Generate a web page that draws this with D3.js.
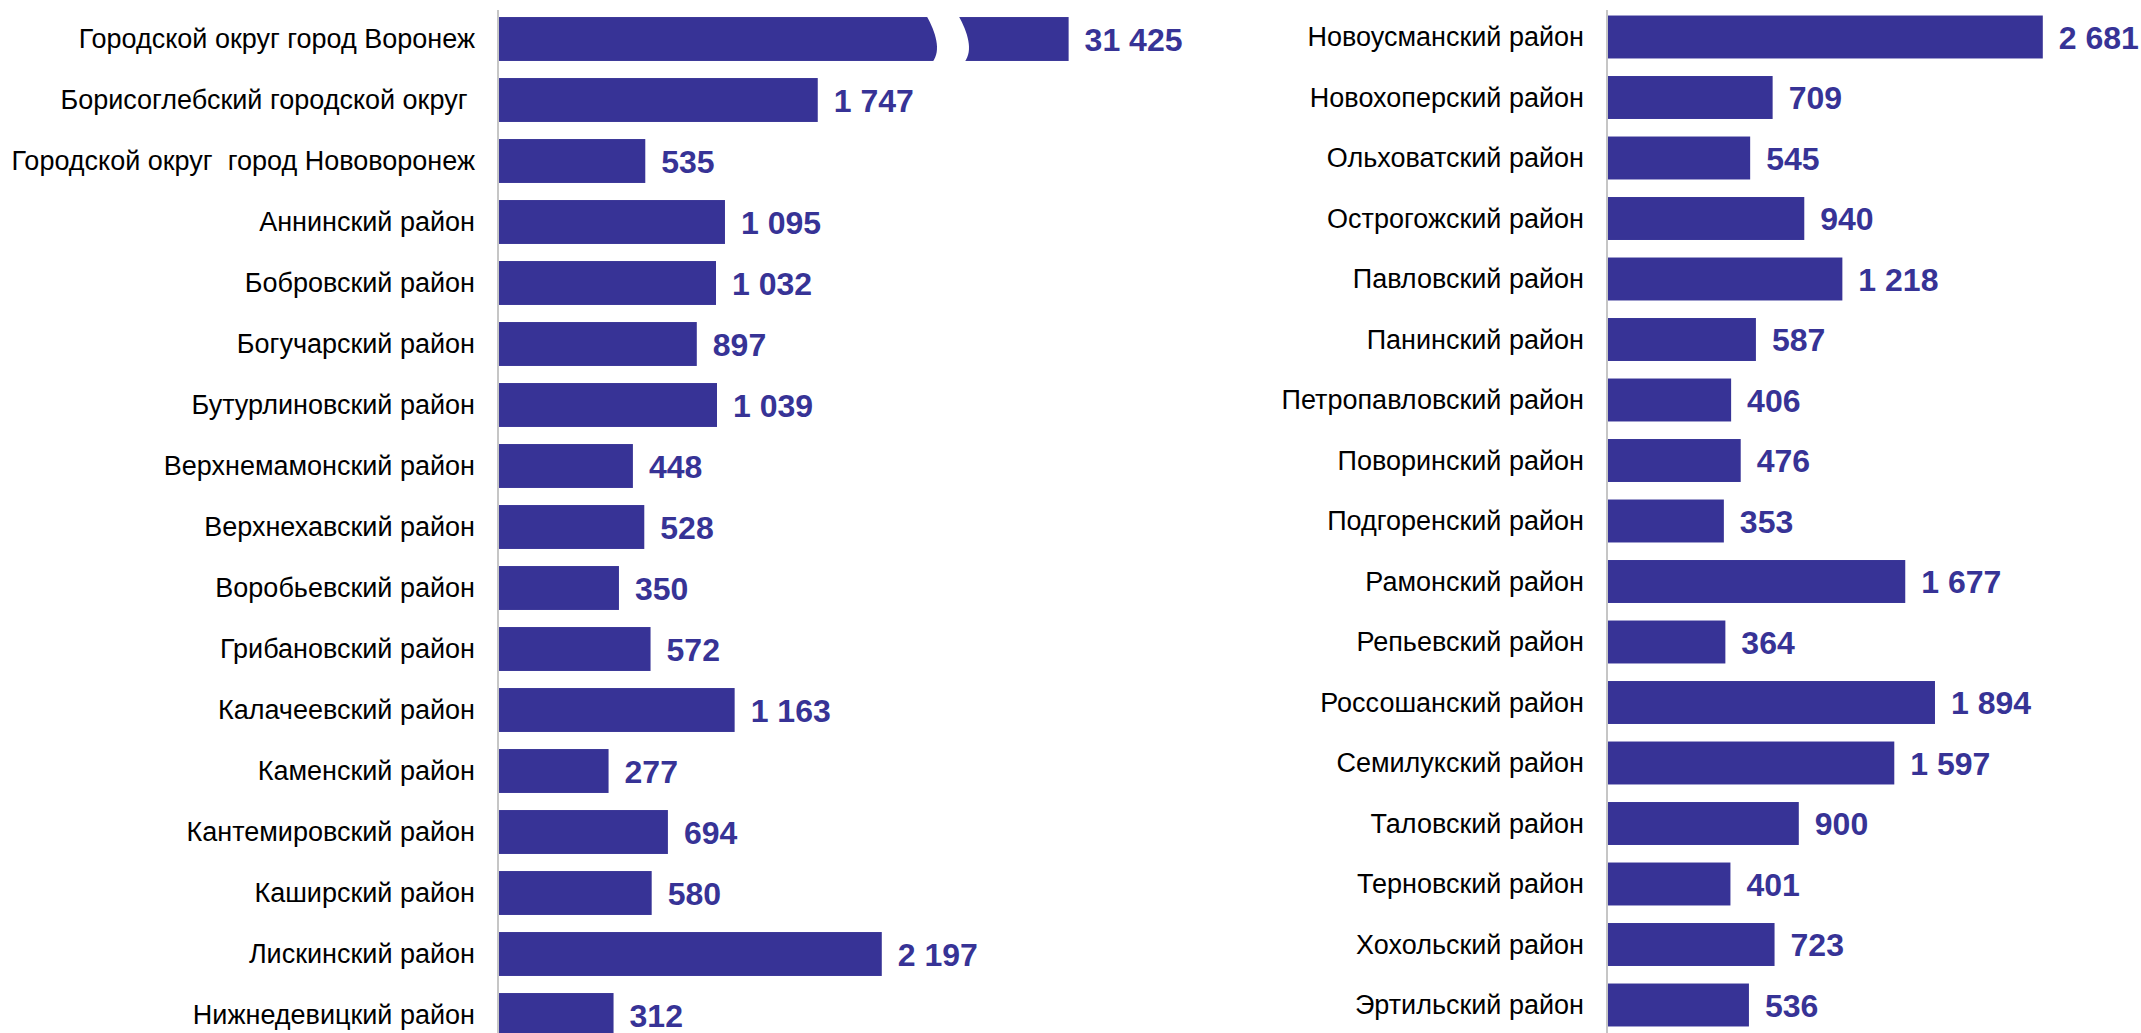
<!DOCTYPE html>
<html><head><meta charset="utf-8">
<script src="https://cdn.jsdelivr.net/npm/d3@7"></script>
<style>
html,body{margin:0;padding:0;background:#fff;overflow:hidden}
text{white-space:pre}
</style></head>
<body>
<svg id="c" width="2141" height="1033"></svg>
<script>
const leftCategories = ["Городской округ город Воронеж","Борисоглебский городской округ ","Городской округ  город Нововоронеж","Аннинский район","Бобровский район","Богучарский район","Бутурлиновский район","Верхнемамонский район","Верхнехавский район","Воробьевский район","Грибановский район","Калачеевский район","Каменский район","Кантемировский район","Каширский район","Лискинский район","Нижнедевицкий район"];
const leftValues = [31425,1747,535,1095,1032,897,1039,448,528,350,572,1163,277,694,580,2197,312];
const rightCategories = ["Новоусманский район","Новохоперский район","Ольховатский район","Острогожский район","Павловский район","Панинский район","Петропавловский район","Поворинский район","Подгоренский район","Рамонский район","Репьевский район","Россошанский район","Семилукский район","Таловский район","Терновский район","Хохольский район","Эртильский район"];
const rightValues = [2681,709,545,940,1218,587,406,476,353,1677,364,1894,1597,900,401,723,536];
const axisDomain = [-500, 3000];
const breakValue = 3510; // values above are drawn with an axis break

const svg = d3.select("#c");
const barColor = "#373396";
const fmt = v => d3.format(",")(v).replace(/,/g, " ");

function panel(cats, vals, axisX, pxPerUnit, y0, step, pad) {
  const x = d3.scaleLinear().domain(axisDomain)
    .range([axisX, axisX + (axisDomain[1]-axisDomain[0])*pxPerUnit]);
  const y = d3.scaleBand().domain(cats)
    .range([y0, y0 + step*cats.length]).paddingInner(pad).paddingOuter(pad/2);
  const g = svg.append("g");
  g.append("line").attr("x1", axisX).attr("x2", axisX).attr("y1", 10).attr("y2", 1033)
    .attr("stroke", "#c6c6c6").attr("stroke-width", 2);
  const rows = g.selectAll("g.row").data(cats.map((c,i)=>({c, v: vals[i]}))).join("g");
  rows.append("rect")
    .attr("x", axisX + 1)
    .attr("y", d => y(d.c))
    .attr("height", y.bandwidth())
    .attr("width", d => x(Math.min(d.v, breakValue)) - axisX - 1)
    .attr("fill", barColor);
  rows.filter(d => d.v > breakValue).each(function(d) {
    const end = x(breakValue), c = end - 121, t = y(d.c) - 1, h = y.bandwidth() + 2;
    d3.select(this).append("path")
      .attr("d", `M${c-21},${t} C${c-12},${t+0.35*h} ${c-6},${t+0.75*h} ${c-15},${t+h} L${c+17},${t+h} C${c+26},${t+0.75*h} ${c+20},${t+0.35*h} ${c+11},${t} Z`)
      .attr("fill", "#fff");
  });
  rows.append("text")
    .attr("x", axisX - 23)
    .attr("y", d => y(d.c) + y.bandwidth()/2)
    .attr("dy", "0.35em")
    .attr("text-anchor", "end")
    .attr("font-family", "Liberation Sans, Arial, sans-serif")
    .attr("font-size", 27)
    .attr("fill", "#000")
    .text(d => d.c);
  rows.append("text")
    .attr("x", d => x(Math.min(d.v, breakValue)) + 16)
    .attr("y", d => y(d.c) + y.bandwidth()/2)
    .attr("dy", "0.36em")
    .attr("font-family", "Liberation Sans, Arial, sans-serif")
    .attr("font-weight", "bold")
    .attr("font-size", 32)
    .attr("fill", barColor)
    .text(d => fmt(d.v));
}
panel(leftCategories, leftValues, 498, 0.1423, 8.5, 61, 0.28);
panel(rightCategories, rightValues, 1607, 0.137, 6.75, 60.5, 0.29);
</script>
</body></html>
